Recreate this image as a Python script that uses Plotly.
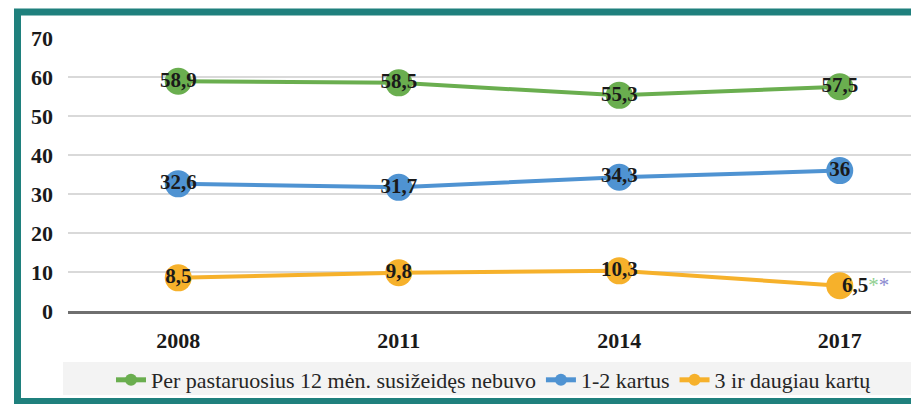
import plotly.graph_objects as go

years = ["2008", "2011", "2014", "2017"]
series_names = ["Per pastaruosius 12 mėn. susižeidęs nebuvo", "1-2 kartus", "3 ir daugiau kartų"]
green_vals = [58.9, 58.5, 55.3, 57.5]
blue_vals = [32.6, 31.7, 34.3, 36.0]
orange_vals = [8.5, 9.8, 10.3, 6.5]
green_labels = ["58,9", "58,5", "55,3", "57,5"]
blue_labels = ["32,6", "31,7", "34,3", "36"]
orange_labels = ["8,5", "9,8", "10,3", ""]
orange_last_label = "6,5"
y_ticks = [0, 10, 20, 30, 40, 50, 60, 70]

colors = ["#6aae4f", "#4f93d2", "#f6b12b"]
SERIF = "Liberation Serif, Times New Roman, serif"
OFF = 8  # page body margin offset
W, H = 919, 404
L, R, T, B = 68 - OFF, 0, 38 - OFF, 404 - (311 - OFF)
pw, ph = W - L - R, H - T - B

def px_x(p):
    return (p - OFF - L) / pw

def px_y(p):
    return (H - B - (p - OFF)) / ph

fig = go.Figure()
label_font = dict(family=SERIF, size=21, color="#1a1a1a")
for name, vals, labels, c in zip(series_names, [green_vals, blue_vals, orange_vals],
                                 [green_labels, blue_labels, orange_labels], colors):
    fig.add_trace(go.Scatter(
        x=years, y=vals, name=name, mode="lines+markers+text",
        text=["<b>%s</b>" % t if t else "" for t in labels],
        textposition="middle center", textfont=label_font,
        line=dict(color=c, width=4),
        marker=dict(color=c, size=27),
        cliponaxis=False,
    ))

fig.add_annotation(
    x=len(years) - 1, y=orange_vals[-1], xref="x", yref="y",
    text="<b>%s</b><span style='color:#8fd08f'>*</span><span style='color:#8a8ad0'>*</span>" % orange_last_label,
    showarrow=False, xanchor="left", xshift=0, yshift=1, font=label_font,
)

# legend background band
fig.add_shape(type="rect", xref="paper", yref="paper",
              x0=px_x(63), x1=px_x(930), y0=px_y(395), y1=px_y(362),
              fillcolor="#f3f3f3", line=dict(width=0), layer="below")
# teal frame
fig.add_shape(type="rect", xref="paper", yref="paper",
              x0=px_x(17.5), x1=px_x(940), y0=px_y(401.5), y1=px_y(12),
              fillcolor="rgba(0,0,0,0)", line=dict(color="#1f807d", width=7))

fig.update_layout(
    width=W, height=H,
    margin=dict(l=L, r=R, t=T, b=B, pad=0),
    paper_bgcolor="white", plot_bgcolor="white",
    font=dict(family=SERIF, color="#262626"),
    showlegend=True,
    legend=dict(orientation="h", x=px_x(494), xanchor="center", y=px_y(380), yanchor="middle",
                bgcolor="rgba(0,0,0,0)", font=dict(family=SERIF, size=22, color="#262626"),
                itemsizing="constant", tracegroupgap=0),
    xaxis=dict(type="category", range=[-0.5, -0.5 + pw / 220.5], showgrid=False,
               showline=True, linecolor="#6f6f6f", linewidth=2.5,
               tickfont=dict(family=SERIF, size=22, color="#1a1a1a", weight="bold"),
               ticks="", ticklabelstandoff=8, zeroline=False),
    yaxis=dict(range=[0, 70], tickvals=y_ticks, showgrid=True, gridcolor="#d9d9d9", gridwidth=2,
               zeroline=False, showline=False,
               tickfont=dict(family=SERIF, size=22, color="#1a1a1a", weight="bold"),
               ticks="", ticklabelstandoff=14),
)

fig.write_html("out.html")
